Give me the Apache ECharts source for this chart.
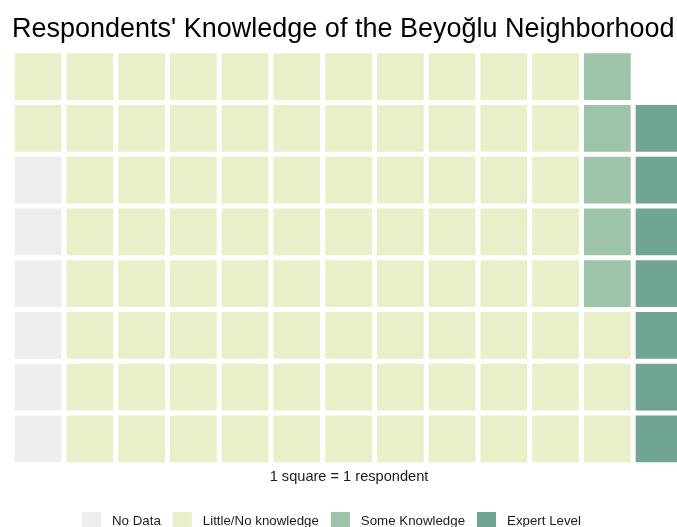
<!DOCTYPE html>
<html>
<head>
<meta charset="utf-8">
<script src="https://cdn.jsdelivr.net/npm/echarts@6/dist/echarts.min.js"></script>
<style>html,body{margin:0;padding:0;background:#fff;overflow:hidden;}#c{width:720px;height:527px;}</style>
</head>
<body>
<div id="c"></div>
<script>
// Data
const categories = ['No Data', 'Little/No knowledge', 'Some Knowledge', 'Expert Level'];
const counts = [6, 85, 5, 7];
const colors = ['#EEEEEE', '#E8F0C9', '#9DC3A8', '#70A494'];
const nCols = 13;
const nRows = 8;
const colLabels = ['1','2','3','4','5','6','7','8','9','10','11','12','13'];
const rowLabels = ['1','2','3','4','5','6','7','8'];

// Fill cells column by column, bottom to top
const cellsByCat = categories.map(() => []);
let k = 0;
counts.forEach((n, ci) => {
  for (let i = 0; i < n; i++) {
    const col = Math.floor(k / nRows);
    const row = k % nRows;
    cellsByCat[ci].push([col, row]);
    k++;
  }
});

const GAP = 5;
function renderItem(params, api) {
  const c = api.coord([api.value(0), api.value(1)]);
  const s = api.size([1, 1]);
  const w = s[0] - GAP, h = s[1] - GAP;
  return {
    type: 'rect',
    shape: { x: c[0] - w / 2, y: c[1] - h / 2, width: w, height: h },
    style: api.style()
  };
}

const FONT = 'Liberation Sans, Arial, sans-serif';
const chart = echarts.init(document.getElementById('c'), null, { renderer: 'canvas' });
chart.setOption({
  animation: false,
  backgroundColor: '#ffffff',
  textStyle: { fontFamily: FONT },
  title: [{
    text: "Respondents' Knowledge of the Beyoğlu Neighborhood",
    left: 12, top: 16, padding: 0,
    textStyle: { fontSize: 27, fontWeight: 'normal', color: '#000', fontFamily: FONT }
  }, {
    text: '1 square = 1 respondent',
    left: 349, top: 469, textAlign: 'center', padding: 0,
    textStyle: { fontSize: 14.6, fontWeight: 'normal', color: '#1a1a1a', fontFamily: FONT }
  }],
  grid: { left: 12.2, top: 50.7, width: 51.75 * nCols, height: 51.75 * nRows },
  xAxis: { type: 'category', data: colLabels, show: false, boundaryGap: true },
  yAxis: { type: 'category', data: rowLabels, show: false, boundaryGap: true },
  legend: {
    left: 82, top: 512, padding: 0,
    itemWidth: 19, itemHeight: 19, itemGap: 12,
    icon: 'rect',
    data: categories,
    textStyle: { fontSize: 13.3, color: '#1a1a1a', padding: [0, 0, 0, 6], fontFamily: FONT }
  },
  series: categories.map((name, i) => ({
    name: name,
    type: 'custom',
    renderItem: renderItem,
    itemStyle: { color: colors[i] },
    encode: { x: 0, y: 1 },
    data: cellsByCat[i]
  }))
});
</script>
</body>
</html>
